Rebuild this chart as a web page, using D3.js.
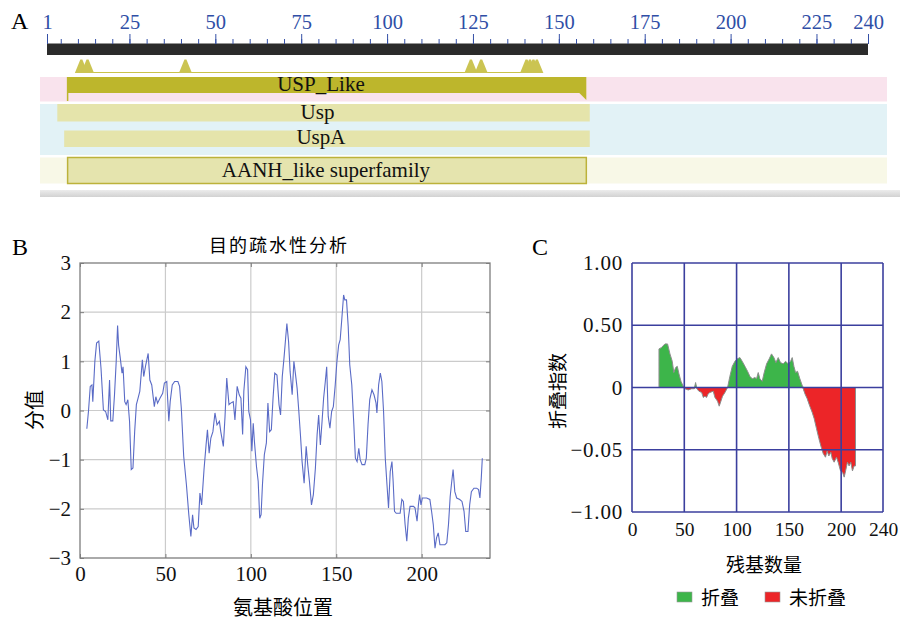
<!DOCTYPE html>
<html>
<head>
<meta charset="utf-8">
<script src="https://cdn.jsdelivr.net/npm/d3@7"></script>
<style>
  body { margin: 0; background: #fff; }
  svg text { font-family: "Liberation Serif", serif; }
  svg text.cjk { font-family: "Noto Sans CJK SC", sans-serif; }
</style>
</head>
<body>
<div id="fig"></div>
<script>
// ---- panel A : domain map ----
var rulerTicks = [1, 25, 50, 75, 100, 125, 150, 175, 200, 225, 240];
var featNames = ["USP_Like", "Usp", "UspA", "AANH_like superfamily"];
var featStart = [7, 4, 6, 7];
var featEnd = [158, 159, 159, 158];
// conserved-site peaks (residue positions)
var sitePeaks = [11, 12.8, 41.3, 124.4, 127.4, 140.6, 141.6, 142.6, 143.6];
var siteFrom = 9.7, siteTo = 145.3;

// ---- panel B : hydrophobicity ----
var hydroPos = [4,5,6,7,7.5,8.7,9.7,11,12.3,13.7,15,16.3,17.3,18,19.2,20.2,21.2,22,22.6,23.6,24.6,25.2,26.2,27,28,29,30,31,32,33,34,35,36.5,37.3,38.5,39.9,40.9,42,43.5,44.4,45.4,46.8,48.4,49.4,50.8,51.4,52,52.8,54,55.4,57.3,58.3,59.3,60.7,62.3,63.7,64.9,65.9,66.7,67.9,69.2,70.2,71.2,72.6,73.8,74.6,75.6,76.6,77.8,79,80.2,
  81.6,82.4,83.9,84.9,85.9,86.4,87.2,88.2,89.7,90.7,92,93.2,94.2,95.2,95.9,97.1,98.1,98.8,99.8,100.6,101.4,102.1,103.3,104.3,105.2,106,106.8,107.9,109.1,110,111,112,113,114,115.3,116.5,117.4,118.4,119.4,120.3,121.1,122.1,123,124.2,125.2,126.2,127.1,128.1,129.1,130,131.2,132.4,133.3,134.3,135.5,136.6,137.8,138.8,139.7,140.7,141.7,142.6,143.6,144.4,145.3,146.3,147.3,148.3,149.4,150.4,151.4,152.3,153.3,154.3,155,156,157,157.9,159.1,
  160.3,161.2,162.2,163.2,164,165.1,166.7,167.6,168.6,169.6,170.9,172.1,173.3,173.8,174.8,175.8,176.7,177.7,178.7,179.7,180.6,181.6,182.6,183.3,184.1,185.1,187.4,188.4,189.3,190.3,191.3,192.2,193.2,195.2,196.1,197.3,198.1,198.8,199.6,200.4,202.9,204.8,205.8,206.8,207.8,208.7,209.7,210.7,213.6,214.7,215.7,216.7,217.4,218.4,219.4,220.5,222.3,223.6,224.8,225.8,227.1,228.1,229.1,230.6,232.2,233.3,234.1,234.9,235.5];
var hydroVal = [-0.37,0,0.49,0.52,0.18,1.0,1.37,1.41,0.86,0.01,-0.02,-0.19,0.62,-0.21,-0.21,0.32,1.0,1.73,1.33,1.06,0.76,0.89,0.18,0.12,0.22,-0.22,-1.2,-1.17,-0.43,0.12,0.25,0.39,1.03,0.69,0.93,1.16,0.62,0.52,0.08,0.28,0.15,0.25,0.35,0.56,0.59,0.18,-0.22,0.18,0.52,0.59,0.59,0.49,0.05,-0.93,-1.51,-2.12,-2.56,-2.12,-2.39,-2.42,-2.36,-1.68,-1.92,-1.2,-0.7,-0.39,-0.87,-0.56,-0.43,-0.05,-0.29,
  -0.22,-0.43,-0.73,-0.12,0.66,0.45,0.12,0.15,0.18,-0.19,0.49,0.32,0.25,-0.49,0.39,0.89,0.83,-0.02,-0.19,-0.83,-0.26,-0.63,-1.14,-1.44,-2.19,-2.12,-1.51,-0.9,-0.66,0.15,-0.43,-0.39,0.25,0.76,0.72,0.12,-0.09,0.69,1.06,1.44,1.77,1.4,0.79,0.32,1.0,0.72,0.45,-0.02,-0.53,-1.04,-1.48,-0.73,-1.1,-1.44,-1.92,-1.71,-1.17,-0.49,-0.09,-0.7,-0.22,0.25,0.59,0.89,-0.12,-0.36,-0.02,0.08,0.52,1.0,1.33,1.44,1.88,2.35,2.25,2.25,1.71,0.93,0.52,
  -0.29,-0.97,-1.04,-0.77,-1.0,-1.1,-1.1,-0.97,-0.29,0.22,0.42,0.32,0.15,-0.05,0.52,0.76,0.59,-0.02,-0.97,-1.51,-1.98,-1.24,-1.04,-1.44,-2.05,-2.09,-2.09,-1.81,-1.85,-2.32,-2.66,-2.19,-1.95,-1.95,-1.98,-2.25,-1.92,-1.71,-1.92,-1.78,-1.78,-1.81,-2.05,-2.32,-2.8,-2.59,-2.49,-2.73,-2.73,-2.69,-2.32,-1.75,-1.51,-1.2,-1.65,-1.78,-1.81,-1.85,-2.05,-2.46,-2.46,-1.92,-1.65,-1.58,-1.58,-1.61,-1.78,-1.37,-0.97];
var hydroXTicks = [0, 50, 100, 150, 200];
var hydroYTicks = [-3, -2, -1, 0, 1, 2, 3];

// ---- panel C : folding index ----
var foldPos = [25.8,25.8,28,31.5,34,36.3,38.5,40,41.7,43.3,44.9,46.8,49,50.6,53.8,57,59.6,60.8,62,64,66.6,68.2,69.7,71.3,72.9,74.5,77.7,79.3,81.8,83.4,85,86.6,88.9,91.4,93.6,95.9,98.4,100.6,103.2,105.4,108,110.5,112.7,115,117.5,119.1,120.7,122.3,124.5,126.4,128.7,131.2,133.4,135.7,137.6,139.8,142,144.6,146.8,149.4,151.6,153.2,154.8,156.4,158.3,160.5,163,165.3,167.5,170,172.3,174.2,176.4,178.7,180.6,182.8,185,186.6,188.2,190.1,191.4,193.3,195.5,197.1,199.4,201.3,202.9,204.5,206,207.6,209.2,210.8,212.4,213.7,213.7];
var foldVal = [0,0.31,0.32,0.35,0.35,0.27,0.21,0.12,0.16,0.17,0.11,0.05,0.01,-0.01,-0.02,-0.01,-0.01,0.04,-0.01,-0.03,-0.04,-0.08,-0.07,-0.08,-0.05,-0.04,-0.03,-0.08,-0.11,-0.15,-0.11,-0.07,-0.04,0,0.09,0.17,0.21,0.23,0.24,0.21,0.17,0.13,0.09,0.07,0.08,0.07,0.12,0.07,0.05,0.12,0.19,0.23,0.27,0.24,0.2,0.24,0.2,0.19,0.21,0.19,0.21,0.24,0.17,0.12,0.13,0.07,0.01,-0.05,-0.09,-0.15,-0.2,-0.25,-0.33,-0.41,-0.47,-0.53,-0.56,-0.51,-0.55,-0.52,-0.57,-0.6,-0.56,-0.6,-0.67,-0.68,-0.72,-0.66,-0.6,-0.63,-0.6,-0.67,-0.63,-0.63,0];
var foldXTicks = [0, 50, 100, 150, 200, 240];
var foldYTicks = [-1, -0.5, 0, 0.5, 1];
var foldYLabels = ["\u22121.00", "\u22120.05", "0", "0.50", "1.00"];
var legendNames = ["折叠", "未折叠"];
var legendColors = ["#3db54a", "#ec2528"];

var svg = d3.select("#fig").append("svg")
    .attr("width", 903)
    .attr("height", 620);

// panel letters
svg.append("text").attr("x", 11).attr("y", 29).style("font-size", "24px").text("A");
svg.append("text").attr("x", 12).attr("y", 255).style("font-size", "24px").text("B");
svg.append("text").attr("x", 532).attr("y", 255).style("font-size", "24px").text("C");

// ================= A =================
var xA = d3.scaleLinear().domain([1, 240]).range([47, 868]);

// row backgrounds
svg.append("rect").attr("x", 40).attr("y", 77).attr("width", 847).attr("height", 24.5).attr("fill", "#f9e3ed");
svg.append("rect").attr("x", 40).attr("y", 104).attr("width", 847).attr("height", 51).attr("fill", "#e2f2f6");
svg.append("rect").attr("x", 40).attr("y", 157.5).attr("width", 847).attr("height", 26).attr("fill", "#f8f8e7");
var grad = svg.append("defs").append("linearGradient").attr("id", "shade")
    .attr("x1", 0).attr("y1", 0).attr("x2", 0).attr("y2", 1);
grad.append("stop").attr("offset", "0%").attr("stop-color", "#ececec");
grad.append("stop").attr("offset", "100%").attr("stop-color", "#d2d2d2");
svg.append("rect").attr("x", 40).attr("y", 190).attr("width", 860).attr("height", 7).attr("fill", "url(#shade)");

// black sequence bar
svg.append("rect").attr("x", xA(1)).attr("y", 43.5).attr("width", xA(240) - xA(1)).attr("height", 11.5).attr("fill", "#2b2b2b");

var minorAxis = d3.axisTop(xA).tickValues(d3.range(5, 240, 5)).tickSize(5).tickFormat("");
var majorAxis = d3.axisTop(xA).tickValues(rulerTicks).tickSize(10).tickPadding(5).tickFormat(d3.format("d"));
var gMinor = svg.append("g").attr("transform", "translate(0,44)").call(minorAxis);
var gMajor = svg.append("g").attr("transform", "translate(0,44)").call(majorAxis);
[gMinor, gMajor].forEach(function(g) {
    g.select(".domain").remove();
    g.selectAll("line").attr("stroke", "#3550a6");
});
gMajor.selectAll("text")
    .style("font-family", "Liberation Serif")
    .style("font-size", "20.5px")
    .attr("fill", "#2f4ea6");

// conserved site marks
svg.append("line")
    .attr("x1", xA(siteFrom)).attr("x2", xA(siteTo))
    .attr("y1", 72.5).attr("y2", 72.5)
    .attr("stroke", "#c9c24a").attr("stroke-width", 1.2);
svg.selectAll("path.site").data(sitePeaks).enter().append("path")
    .attr("class", "site")
    .attr("d", function(d) {
        var c = xA(d);
        return "M" + (c - 6.5) + ",73 L" + (c - 1) + ",59.5 L" + (c + 1) + ",59.5 L" + (c + 6.5) + ",73 Z";
    })
    .attr("fill", "#cbc452");

// domain bars
var barY = [77, 104, 130.5, 157.5];
var barH = [16, 17.5, 16.5, 26];
var barFill = ["#bdb62c", "#e5e4ab", "#e5e4ab", "#e5e4ae"];
var textY = [91, 118.5, 144, 176.5];
featNames.forEach(function(name, i) {
    var a = xA(featStart[i]), b = xA(featEnd[i]);
    svg.append("rect")
        .attr("x", a).attr("y", barY[i])
        .attr("width", b - a).attr("height", barH[i])
        .attr("fill", barFill[i])
        .attr("stroke", i === 3 ? "#bcb23a" : "none")
        .attr("stroke-width", 1.5);
    svg.append("text")
        .attr("x", (a + b) / 2 - (i === 3 ? 1 : 6)).attr("y", textY[i])
        .attr("text-anchor", "middle")
        .style("font-size", "21px")
        .attr("fill", "#111")
        .text(name);
});
// bracket edges of USP_Like
svg.append("line").attr("x1", xA(featStart[0])).attr("x2", xA(featStart[0]))
    .attr("y1", 77).attr("y2", 101).attr("stroke", "#bdb62c").attr("stroke-width", 1.5);
svg.append("path")
    .attr("d", "M" + (xA(featEnd[0]) - 7) + ",93 L" + xA(featEnd[0]) + ",100 L" + xA(featEnd[0]) + ",93 Z")
    .attr("fill", "#bdb62c");

// ================= B =================
var xB = d3.scaleLinear().domain([0, 240]).range([80, 490]);
var yB = d3.scaleLinear().domain([-3, 3]).range([558, 263]);

var gB = svg.append("g");
gB.selectAll("line.vgrid").data(hydroXTicks.slice(1)).enter().append("line")
    .attr("x1", function(d) { return xB(d); }).attr("x2", function(d) { return xB(d); })
    .attr("y1", yB(3)).attr("y2", yB(-3))
    .attr("stroke", "#cbcbcb").attr("stroke-width", 1.2);
gB.selectAll("line.hgrid").data(hydroYTicks.slice(1, -1)).enter().append("line")
    .attr("x1", xB(0)).attr("x2", xB(240))
    .attr("y1", function(d) { return yB(d); }).attr("y2", function(d) { return yB(d); })
    .attr("stroke", "#cbcbcb").attr("stroke-width", 1.2);

var lineB = d3.line()
    .x(function(d, i) { return xB(hydroPos[i]); })
    .y(function(d) { return yB(d); });
gB.append("path").datum(hydroVal)
    .attr("d", lineB)
    .attr("fill", "none")
    .attr("stroke", "#5a6bc6")
    .attr("stroke-width", 1.1);

gB.append("rect")
    .attr("x", xB(0)).attr("y", yB(3))
    .attr("width", xB(240) - xB(0)).attr("height", yB(-3) - yB(3))
    .attr("fill", "none").attr("stroke", "#7d7d7d").attr("stroke-width", 1.3);

var axLB = gB.append("g").attr("transform", "translate(" + xB(0) + ",0)")
    .call(d3.axisLeft(yB).tickValues(hydroYTicks).tickFormat(d3.format("d"))
        .tickSizeInner(-4).tickSizeOuter(0).tickPadding(9));
var axBB = gB.append("g").attr("transform", "translate(0," + yB(-3) + ")")
    .call(d3.axisBottom(xB).tickValues(hydroXTicks).tickFormat(d3.format("d"))
        .tickSizeInner(-4).tickSizeOuter(0).tickPadding(8));
var axRB = gB.append("g").attr("transform", "translate(" + xB(240) + ",0)")
    .call(d3.axisRight(yB).tickValues(hydroYTicks).tickSizeInner(-4).tickSizeOuter(0).tickFormat(""));
var axTB = gB.append("g").attr("transform", "translate(0," + yB(3) + ")")
    .call(d3.axisTop(xB).tickValues(hydroXTicks).tickSizeInner(-4).tickSizeOuter(0).tickFormat(""));
[axLB, axBB, axRB, axTB].forEach(function(g) {
    g.select(".domain").remove();
    g.selectAll("line").attr("stroke", "#7d7d7d");
    g.selectAll("text").style("font-family", "Liberation Serif").style("font-size", "21px").attr("fill", "#111");
});

gB.append("text").attr("class", "cjk")
    .attr("x", 279).attr("y", 252)
    .attr("text-anchor", "middle")
    .style("font-size", "18px").style("letter-spacing", "2px")
    .text("目的疏水性分析");
gB.append("text").attr("class", "cjk")
    .attr("transform", "translate(35,410) rotate(-90)")
    .attr("text-anchor", "middle").attr("dy", "0.35em")
    .style("font-size", "20px")
    .text("分值");
gB.append("text").attr("class", "cjk")
    .attr("x", 283).attr("y", 615)
    .attr("text-anchor", "middle")
    .style("font-size", "20px")
    .text("氨基酸位置");

// ================= C =================
var xC = d3.scaleLinear().domain([0, 240]).range([632, 883]);
var yC = d3.scaleLinear().domain([-1, 1]).range([512, 263]);
var gC = svg.append("g");

var foldData = foldPos.map(function(x, i) { return { x: x, v: foldVal[i] }; });
var areaPos = d3.area()
    .x(function(d) { return xC(d.x); })
    .y0(yC(0))
    .y1(function(d) { return yC(Math.max(d.v, 0)); });
var areaNeg = d3.area()
    .x(function(d) { return xC(d.x); })
    .y0(yC(0))
    .y1(function(d) { return yC(Math.min(d.v, 0)); });
gC.append("path").datum(foldData).attr("d", areaPos).attr("fill", legendColors[0]);
gC.append("path").datum(foldData).attr("d", areaNeg).attr("fill", legendColors[1]);
gC.append("path").datum(foldData)
    .attr("d", d3.line().x(function(d) { return xC(d.x); }).y(function(d) { return yC(d.v); }))
    .attr("fill", "none").attr("stroke", "#8d8d8d").attr("stroke-width", 1);

gC.selectAll("line.vgrid").data(foldXTicks).enter().append("line")
    .attr("x1", function(d) { return xC(d); }).attr("x2", function(d) { return xC(d); })
    .attr("y1", yC(1)).attr("y2", yC(-1))
    .attr("stroke", "#3b3f9e").attr("stroke-width", 1.6);
gC.selectAll("line.hgrid").data(foldYTicks).enter().append("line")
    .attr("x1", xC(0)).attr("x2", xC(240))
    .attr("y1", function(d) { return yC(d); }).attr("y2", function(d) { return yC(d); })
    .attr("stroke", "#3b3f9e").attr("stroke-width", 1.6);

var axLC = gC.append("g").attr("transform", "translate(" + xC(0) + ",0)")
    .call(d3.axisLeft(yC).tickValues(foldYTicks).tickSize(0).tickPadding(9)
        .tickFormat(function(d, i) { return foldYLabels[i]; }));
var axBC = gC.append("g").attr("transform", "translate(0," + yC(-1) + ")")
    .call(d3.axisBottom(xC).tickValues(foldXTicks).tickSize(0).tickPadding(10));
[axLC, axBC].forEach(function(g) {
    g.select(".domain").remove();
    g.selectAll("text").style("font-family", "Liberation Serif").style("font-size", "19.5px").attr("fill", "#111");
});
axLC.selectAll("text").style("font-size", "21px").style("letter-spacing", "0.8px");

gC.append("text").attr("class", "cjk")
    .attr("transform", "translate(558,391) rotate(-90)")
    .attr("text-anchor", "middle").attr("dy", "0.35em")
    .style("font-size", "19px")
    .text("折叠指数");
gC.append("text").attr("class", "cjk")
    .attr("x", 764).attr("y", 572)
    .attr("text-anchor", "middle")
    .style("font-size", "19px")
    .text("残基数量");

var legX = [677, 765];
legendNames.forEach(function(name, i) {
    gC.append("rect").attr("x", legX[i]).attr("y", 592).attr("width", 15).attr("height", 10)
        .attr("fill", legendColors[i]).attr("stroke", "#999").attr("stroke-width", 0.6);
    gC.append("text").attr("class", "cjk")
        .attr("x", legX[i] + 24).attr("y", 605)
        .style("font-size", "19px")
        .text(name);
});
</script>
</body>
</html>
